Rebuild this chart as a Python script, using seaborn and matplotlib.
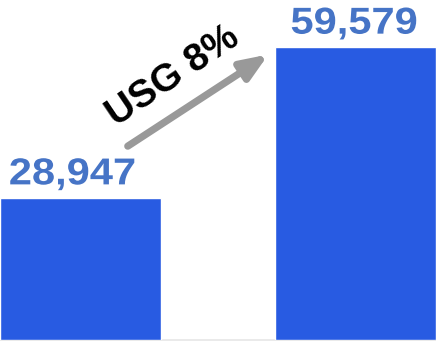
import matplotlib
matplotlib.use("Agg")
import matplotlib.pyplot as plt
import seaborn as sns
import pandas as pd
from matplotlib.patheffects import AbstractPathEffect
from matplotlib.transforms import Affine2D

# Chart data
categories = ["Start", "End"]
values = [28947, 59579]
value_labels = ["28,947", "59,579"]
growth_label = "USG 8%"

BAR_COLOR = "#285BE2"
LABEL_COLOR = "#4674C6"
ARROW_COLOR = "#999999"


class WideText(AbstractPathEffect):
    """Stretch glyphs horizontally about the centre of the text."""

    def __init__(self, sx):
        super().__init__()
        self.sx = sx

    def draw_path(self, renderer, gc, tpath, affine, rgbFace=None):
        ext = tpath.get_extents()
        cx = (ext.x0 + ext.x1) / 2
        stretch = Affine2D().translate(-cx, 0).scale(self.sx, 1).translate(cx, 0)
        renderer.draw_path(gc, tpath, stretch + affine, rgbFace)


sns.set_theme(style="white")
plt.rcParams["font.family"] = ["Liberation Sans", "DejaVu Sans"]

df = pd.DataFrame({"category": categories, "value": values})

fig = plt.figure(figsize=(4.36, 3.41), dpi=100)
ax = fig.add_axes([0, 1 / 341, 1, 340 / 341])

sns.barplot(data=df, x="category", y="value", color=BAR_COLOR,
            saturation=1, width=0.585, ax=ax)

ax.set_xlim(-0.2925, 1.2925)
ax.set_ylim(0, 69100)
ax.axis("off")
ax.axhline(0, color="#e6e6e6", lw=1.2, zorder=0, clip_on=False)

# value labels above the bars
for i, (v, lab) in enumerate(zip(values, value_labels)):
    ax.annotate(lab, xy=(i, v), xytext=(-5.8 if i == 0 else -1.1, 9.5),
                textcoords="offset points", ha="center", va="baseline",
                fontsize=27, fontweight="bold", color=LABEL_COLOR,
                path_effects=[WideText(1.11)])

# growth arrow between the bars
ax.annotate("", xy=(0.683, values[1] * 0.974), xytext=(0.172, values[0] * 1.361),
            arrowprops=dict(arrowstyle="-|>,head_length=0.8,head_width=0.32",
                            lw=5.2, color=ARROW_COLOR, capstyle="round",
                            joinstyle="round", mutation_scale=20,
                            shrinkA=0, shrinkB=0))

ax.text(0.335, 53600, growth_label, rotation=34, rotation_mode="anchor",
        ha="center", va="center", fontsize=28, fontweight="bold", color="black")

fig.savefig("out.png", dpi=100)
